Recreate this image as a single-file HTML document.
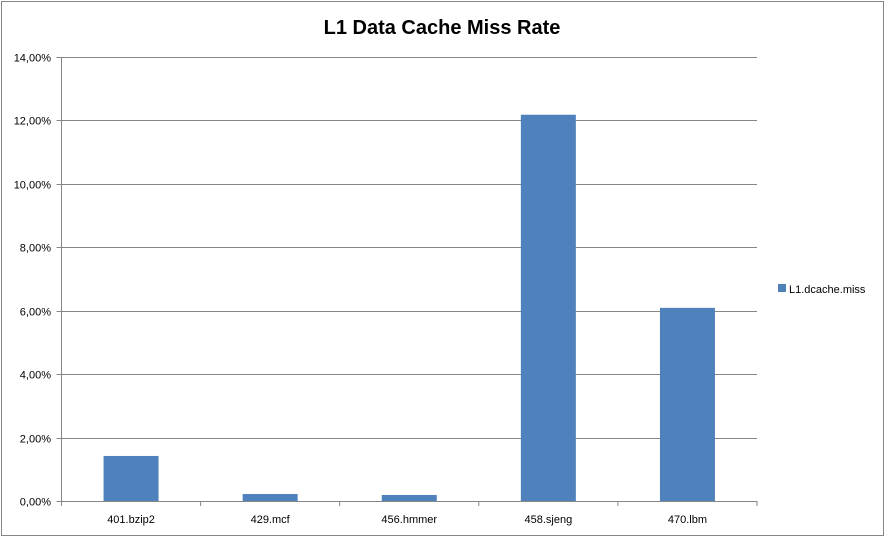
<!DOCTYPE html>
<html><head><meta charset="utf-8"><style>
body{margin:0;background:#fff;}
svg text{font-family:"Liberation Sans",sans-serif;}
</style></head><body>
<svg width="885" height="537" xmlns="http://www.w3.org/2000/svg">
<rect x="1.5" y="1.5" width="882" height="534" fill="#fff" stroke="#868686"/>
<text x="442" y="34" text-anchor="middle" font-size="20" font-weight="bold">L1 Data Cache Miss Rate</text>
<g id="grid"></g><g id="bars"></g><g id="axes"></g>
<rect x="778" y="284" width="8" height="8" fill="#4f81bd"/>
<text x="789" y="293" font-size="11">L1.dcache.miss</text>
<script>
const categories=["401.bzip2","429.mcf","456.hmmer","458.sjeng","470.lbm"];
const values=[1.42,0.22,0.19,12.18,6.09];
const ticks=[0,2,4,6,8,10,12,14];
const tickLabels=["0,00%","2,00%","4,00%","6,00%","8,00%","10,00%","12,00%","14,00%"];
const X0=61.5,X1=757,Y0=501,Y1=57,YMAX=14;
const NS="http://www.w3.org/2000/svg";
function y(v){return Y0-(v/YMAX)*(Y0-Y1);}
const bw=(X1-X0)/categories.length;
function mk(t,a,p){const e=document.createElementNS(NS,t);for(const k in a)e.setAttribute(k,a[k]);p.appendChild(e);return e;}
const g=document.getElementById('grid'),b=document.getElementById('bars'),ax=document.getElementById('axes');
ticks.forEach((t,i)=>{
 const yy=Math.round(y(t))+0.5;
 if(t>0){const l=mk('line',{x1:X0,x2:X1,y1:yy,y2:yy,stroke:'#868686'},g);
 
 }
 const tk=mk('line',{x1:X0-5,x2:X0,y1:yy,y2:yy,stroke:'#868686'},ax);
 
 
 const tx=mk('text',{x:51,y:yy+4,'text-anchor':'end','font-size':'11'},ax);tx.textContent=tickLabels[i];
 
 
});
categories.forEach((c,i)=>{
 const cx=X0+bw*(i+0.5);
 const r=mk('rect',{x:cx-27.5,y:y(values[i]),width:55,height:Y0-y(values[i]),fill:'#4f81bd'},b);
 
 
 const tx=mk('text',{x:cx,y:523,'text-anchor':'middle','font-size':'11'},ax);tx.textContent=c;
 
 
 const tk=mk('line',{x1:X0+bw*(i+1),x2:X0+bw*(i+1),y1:Y0,y2:Y0+5,stroke:'#868686'},ax);
 
 
});
const ya=mk('line',{x1:X0,x2:X0,y1:Y1,y2:Y0+5,stroke:'#868686'},ax);


const xa=mk('line',{x1:X0-5,x2:X1,y1:Y0+0.5,y2:Y0+0.5,stroke:'#868686'},ax);


</script>
</svg>
</body></html>
